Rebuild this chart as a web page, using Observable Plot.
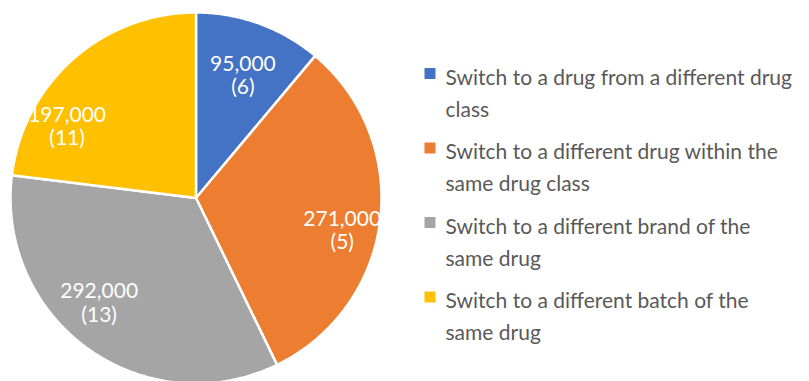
<!DOCTYPE html>
<html>
<head>
<meta charset="utf-8">
<script src="https://cdn.jsdelivr.net/npm/d3@7"></script>
<script src="https://cdn.jsdelivr.net/npm/@observablehq/plot@0.6"></script>
<style>
  html, body { margin: 0; padding: 0; background: #fff; }
  #chart { width: 809px; height: 381px; overflow: hidden; }
</style>
</head>
<body>
<div id="chart"></div>
<script>
// ---- data ----
const categories = [
  "Switch to a drug from a different drug\nclass",
  "Switch to a different drug within the\nsame drug class",
  "Switch to a different brand of the\nsame drug",
  "Switch to a different batch of the\nsame drug"
];
const values = [95000, 271000, 292000, 197000];
const counts = [6, 5, 13, 11];
const colors = ["#4472C4", "#ED7D31", "#A5A5A5", "#FFC000"];

// ---- layout (not data) ----
const W = 809, H = 381;
const cx = 195.5, cy = 197.5, R = 185.5;
const labelR = 0.74 * R;
// best-fit style nudges of the in-slice labels, in pixels
const labelNudgeX = [0, 10, -17, -38];
const labelNudgeY = [6, 15, -7, 31];
const font = "Lato, 'Open Sans', sans-serif";

const rows = categories.map((c, i) => ({ category: c, value: values[i], count: counts[i] }));
const arcs = d3.pie().sort(null).value(d => d.value)(rows);

// slice outlines generated from the pie angles
const slicePts = [];
arcs.forEach(a => {
  const key = a.data.category;
  slicePts.push({ key, x: cx, y: cy });
  const n = Math.max(2, Math.ceil((a.endAngle - a.startAngle) / (Math.PI / 360)));
  for (let k = 0; k <= n; k++) {
    const t = a.startAngle + (a.endAngle - a.startAngle) * k / n;
    slicePts.push({ key, x: cx + R * Math.sin(t), y: cy - R * Math.cos(t) });
  }
  slicePts.push({ key, x: cx, y: cy });
});

const labels = arcs.map((a, i) => {
  const m = (a.startAngle + a.endAngle) / 2;
  return {
    x: cx + labelR * Math.sin(m) + labelNudgeX[i],
    y: cy - labelR * Math.cos(m) + labelNudgeY[i],
    text: d3.format(",")(a.data.value) + "\n(" + a.data.count + ")"
  };
});

const legend = rows.map((r, i) => ({ key: r.category, y: 73 + i * 74.5 }));

const chart = Plot.plot({
  width: W,
  height: H,
  margin: 0,
  x: { domain: [0, W], range: [0, W], axis: null },
  y: { domain: [0, H], range: [0, H], axis: null },
  color: { domain: categories, range: colors },
  style: { fontFamily: font, background: "#fff" },
  marks: [
    Plot.line(slicePts, {
      x: "x", y: "y", z: "key", fill: "key",
      stroke: "#fff", strokeWidth: 2.5, strokeLinejoin: "miter", curve: "linear"
    }),
    Plot.text(labels, {
      x: "x", y: "y", text: "text", fill: "#fff",
      fontSize: 21, lineHeight: 1.1, textAnchor: "middle", lineAnchor: "middle"
    }),
    Plot.dot(legend, {
      x: 429.5, y: "y", fill: "key", symbol: "square", r: 6.2, stroke: null
    }),
    Plot.text(legend, {
      x: 445, y: d => d.y + 17, text: "key", fill: "#595959",
      fontSize: 21, lineHeight: 1.52, textAnchor: "start", lineAnchor: "middle"
    })
  ]
});
document.getElementById("chart").appendChild(chart);
</script>
</body>
</html>
